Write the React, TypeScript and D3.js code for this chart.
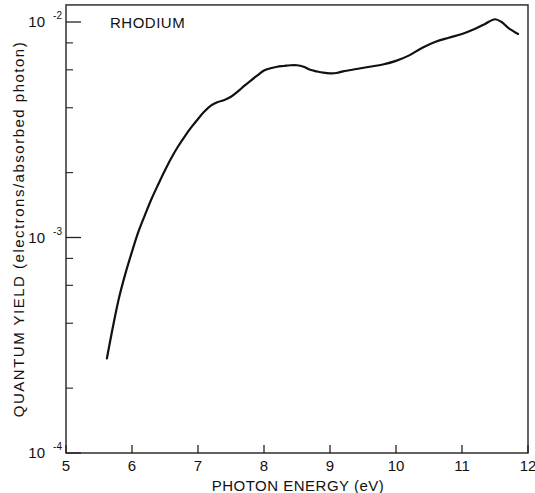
import React from 'react'
import * as d3 from 'd3'

// photon energy (eV) and quantum yield
const energy = [5.62, 5.7, 5.8, 5.9, 6.0, 6.1, 6.2, 6.3, 6.4, 6.5, 6.6, 6.7, 6.8, 6.9, 7.0, 7.1, 7.2, 7.3, 7.4, 7.5, 7.6, 7.7, 7.8, 7.9, 8.0, 8.1, 8.2, 8.3, 8.4, 8.5, 8.6, 8.7, 8.8, 8.9, 9.0, 9.1, 9.2, 9.4, 9.6, 9.8, 10.0, 10.2, 10.4, 10.6, 10.8, 11.0, 11.2, 11.35, 11.5, 11.6, 11.7, 11.85]
const yieldVals = [2.75e-4, 3.7e-4, 5.2e-4, 6.8e-4, 8.6e-4, 1.07e-3, 1.28e-3, 1.52e-3, 1.77e-3, 2.05e-3, 2.35e-3, 2.65e-3, 2.95e-3, 3.25e-3, 3.55e-3, 3.85e-3, 4.1e-3, 4.25e-3, 4.35e-3, 4.5e-3, 4.75e-3, 5.05e-3, 5.35e-3, 5.65e-3, 5.95e-3, 6.1e-3, 6.2e-3, 6.25e-3, 6.3e-3, 6.3e-3, 6.2e-3, 6.0e-3, 5.9e-3, 5.82e-3, 5.78e-3, 5.8e-3, 5.9e-3, 6.05e-3, 6.2e-3, 6.35e-3, 6.6e-3, 7.0e-3, 7.6e-3, 8.1e-3, 8.45e-3, 8.8e-3, 9.3e-3, 9.8e-3, 1.03e-2, 1.0e-2, 9.4e-3, 8.8e-3]

const xTicks = [5, 6, 7, 8, 9, 10, 11, 12]
const yMajor = [1e-4, 1e-3, 1e-2]
const yMajorExp = ['-4', '-3', '-2']
const yMinor = [2e-4, 4e-4, 6e-4, 8e-4, 2e-3, 4e-3, 6e-3, 8e-3]

const font = '"Liberation Sans", Arial, sans-serif'

export default function App() {
  const left = 66, right = 528, bottom = 453
  const x = d3.scaleLinear().domain([5, 12]).range([left, right])
  const y = d3.scaleLog().domain([1e-4, 1e-2]).range([bottom, 22])
  const top = y(1.2e-2)

  const pts: [number, number][] = energy.map((e, i) => [e, yieldVals[i]])
  const line = d3.line<[number, number]>()
    .x(d => x(d[0]))
    .y(d => y(d[1]))
    .curve(d3.curveCatmullRom.alpha(0.5))

  return (
    <svg width={535} height={493} style={{ position: 'absolute', left: 0, top: 0, background: '#fff' }}>
      <rect x={left} y={top} width={right - left} height={bottom - top} fill="none" stroke="#222" strokeWidth={1.4} />

      {xTicks.map(t => (
        <g key={'x' + t}>
          <line x1={x(t)} x2={x(t)} y1={bottom} y2={bottom - 8} stroke="#222" strokeWidth={1.3} />
          <text x={x(t)} y={471} textAnchor="middle" fontSize={15} fontFamily={font} fill="#111">{t}</text>
        </g>
      ))}

      {yMajor.map((t, i) => (
        <g key={'ym' + t}>
          <line x1={left} x2={left + 15} y1={y(t)} y2={y(t)} stroke="#222" strokeWidth={1.3} />
          <text x={left - 21} y={y(t) + 5} textAnchor="end" fontSize={15} fontFamily={font} fill="#111">10</text>
          <text x={left - 4} y={y(t) - 3} textAnchor="end" fontSize={10} fontFamily={font} fill="#111">{yMajorExp[i]}</text>
        </g>
      ))}
      {yMinor.map(t => (
        <line key={'yn' + t} x1={left} x2={left + 7} y1={y(t)} y2={y(t)} stroke="#222" strokeWidth={1.1} />
      ))}

      <path d={line(pts) || ''} fill="none" stroke="#111" strokeWidth={2.2} strokeLinejoin="round" strokeLinecap="round" />

      <text x={110} y={28} fontSize={15} fontFamily={font} fill="#111" letterSpacing={0.5}>RHODIUM</text>

      <text x={(left + right) / 2 + 1} y={491} textAnchor="middle" fontSize={15} fontFamily={font} fill="#111" letterSpacing={0.5}>PHOTON ENERGY (eV)</text>
      <text transform={`translate(24, ${(top + bottom) / 2}) rotate(-90)`} textAnchor="middle" fontSize={15} fontFamily={font} fill="#111" letterSpacing={1.5}>QUANTUM YIELD (electrons/absorbed photon)</text>
    </svg>
  )
}
